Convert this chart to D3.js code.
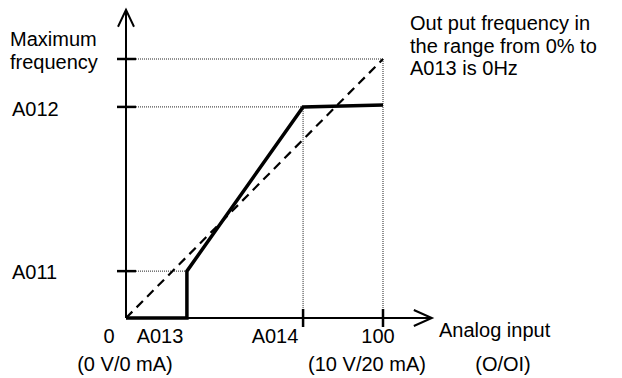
<!DOCTYPE html>
<html>
<head>
<meta charset="utf-8">
<script src="https://cdn.jsdelivr.net/npm/d3@7"></script>
<style>
  html, body { margin: 0; padding: 0; background: #fff; }
  svg { display: block; }
  text { font-family: Arial, "Liberation Sans", sans-serif; fill: #000; }
</style>
</head>
<body>
<svg id="chart" width="622" height="378"></svg>
<script>
// ---- data (percent of full scale) ----
const inputCategories = ["0", "A013", "A014", "100"];
const inputValues = [0, 23.7, 68.9, 100];
const outputCategories = ["A011", "A012", "Maximum frequency"];
const outputValues = [18.1, 81.5, 100];
// characteristic (thick line)
const curveInput = [0, 23.7, 23.7, 68.9, 100];
const curveOutput = [0, 0, 18.1, 81.5, 82.2];
// reference proportional line (dashed)
const refInput = [0, 100];
const refOutput = [0, 100];
const subLabels = ["(0 V/0 mA)", "(10 V/20 mA)", "(O/OI)"];
const noteLines = ["Out put frequency in", "the range from 0% to", "A013 is 0Hz"];
const axisMax = 119;

const svg = d3.select("#chart");
const x = d3.scaleLinear().domain([0, 100]).range([126, 383]);
const y = d3.scaleLinear().domain([0, 100]).range([318, 59]);

// dotted guides
const guide = svg.append("g").attr("stroke", "#222").attr("stroke-width", 1)
  .attr("stroke-dasharray", "1,1").attr("fill", "none");
// max frequency
guide.append("line").attr("x1", x(0) + 10).attr("x2", x(100)).attr("y1", y(100)).attr("y2", y(100));
guide.append("line").attr("x1", x(100)).attr("x2", x(100)).attr("y1", y(100)).attr("y2", y(0) - 9);
// A012
guide.append("line").attr("x1", x(0) + 10).attr("x2", x(curveInput[3])).attr("y1", y(outputValues[1])).attr("y2", y(outputValues[1]));
guide.append("line").attr("x1", x(curveInput[3])).attr("x2", x(curveInput[3])).attr("y1", y(outputValues[1])).attr("y2", y(0) - 9);
// A011
guide.append("line").attr("x1", x(0) + 10).attr("x2", x(curveInput[1])).attr("y1", y(outputValues[0])).attr("y2", y(outputValues[0]));

// axes
const ax = svg.append("g").attr("stroke", "#000").attr("fill", "none");
ax.append("line").attr("x1", x(0)).attr("x2", x(0)).attr("y1", y(0)).attr("y2", y(axisMax)).attr("stroke-width", 2);
ax.append("path").attr("d", `M${x(0)-8},${y(axisMax)+17} L${x(0)},${y(axisMax)} L${x(0)+8},${y(axisMax)+17}`).attr("stroke-width", 2);
ax.append("line").attr("x1", x(0)).attr("x2", x(axisMax)).attr("y1", y(0)).attr("y2", y(0)).attr("stroke-width", 2);
ax.append("path").attr("d", `M${x(axisMax)-18},${y(0)-8} L${x(axisMax)},${y(0)} L${x(axisMax)-18},${y(0)+8}`).attr("stroke-width", 2);

// ticks
outputValues.forEach(v => {
  ax.append("line").attr("x1", x(0) - 9).attr("x2", x(0) + 10).attr("y1", y(v)).attr("y2", y(v)).attr("stroke-width", 2.5);
});
inputValues.slice(2).forEach(v => {
  ax.append("line").attr("x1", x(v)).attr("x2", x(v)).attr("y1", y(0) - 9).attr("y2", y(0) + 9).attr("stroke-width", 2.5);
});

// dashed reference
const line = d3.line().x(d => x(d[0])).y(d => y(d[1]));
svg.append("path").datum(refInput.map((v, i) => [v, refOutput[i]]))
  .attr("d", line).attr("fill", "none").attr("stroke", "#000")
  .attr("stroke-width", 2.2).attr("stroke-dasharray", "9,6");

// thick characteristic
svg.append("path").datum(curveInput.map((v, i) => [v, curveOutput[i]]))
  .attr("d", line).attr("fill", "none").attr("stroke", "#000")
  .attr("stroke-width", 3.5).attr("stroke-linejoin", "miter");

// labels
const fs = 20;
const T = (t, xx, yy, anchor) => svg.append("text").attr("x", xx).attr("y", yy)
  .attr("font-size", fs).attr("text-anchor", anchor || "start").text(t);

const mf = outputCategories[2].split(" ");
T(mf[0], 10, 46);
T(mf[1], 10, 69);
T(outputCategories[1], 12, y(outputValues[1]) + 9);
T(outputCategories[0], 12, y(outputValues[0]) + 8);

T(inputCategories[0], 109, 343, "middle");
T(inputCategories[1], 160, 343, "middle");
T(inputCategories[2], 275, 343, "middle");
T(inputCategories[3], 378, 343, "middle");
T("Analog input", 439, 337);

T(subLabels[0], 125, 371, "middle");
T(subLabels[1], 367, 371, "middle");
T(subLabels[2], 503, 371, "middle");

noteLines.forEach((t, i) => T(t, 410, 30 + i * 22.5));
</script>
</body>
</html>
